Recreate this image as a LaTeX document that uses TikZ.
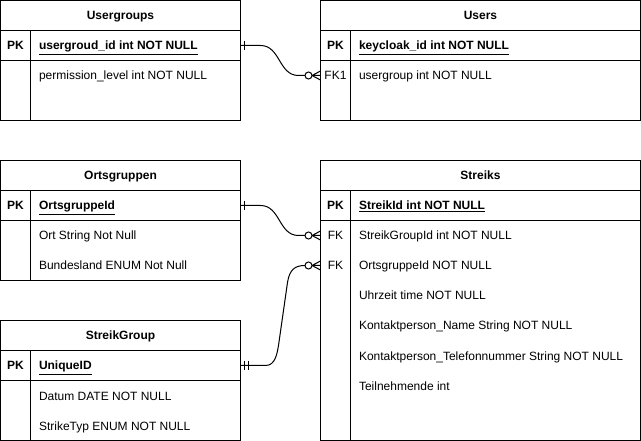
\documentclass[tikz,border=0pt]{standalone}
\usepackage{fontspec}
\setmainfont{Liberation Sans}
\usetikzlibrary{calc}
% table frame: name, x, y, width, height, title
\newcommand{\tablebox}[6]{%
  \draw (#2,#3) rectangle ++(#4,#5);
  \draw (#2,#3+30) -- ++(#4,0) (#2,#3+60) -- ++(#4,0) (#2+30,#3+30) -- (#2+30,#3+#5);
  \node[tabtitle] (#1-title) at (#2+#4/2,#3+19.5) {#6};}
% relation ends
\newcommand{\onemark}[1]{\draw ($(#1)+(4,-4.5)$) -- ++(0,9);}
\newcommand{\onlyonemark}[1]{\draw ($(#1)+(4,-4.5)$) -- ++(0,9) ($(#1)+(8,-4.5)$) -- ++(0,9);}
\newcommand{\manymark}[1]{%
  \draw[fill=white] ($(#1)+(-12,0)$) circle (3.5);
  \draw ($(#1)+(-8.5,0)$) -- ($(#1)+(0,-4.5)$) ($(#1)+(-8.5,0)$) -- (#1) ($(#1)+(-8.5,0)$) -- ($(#1)+(0,4.5)$);}

\begin{document}
\begin{tikzpicture}[x=1pt,y=-1pt,line width=1pt,font=\fontsize{12}{14}\selectfont]
  \tikzstyle{tabtitle}=[font=\fontsize{12}{14}\selectfont\bfseries,anchor=base,inner sep=0pt]
  \tikzstyle{keylbl}=[anchor=base,inner sep=0pt]
  \tikzstyle{field}=[anchor=base west,inner sep=0pt]
  \useasboundingbox (-0.5,-0.5) rectangle (640.5,440.5);

  % Usergroups
  \tablebox{ug}{0}{0}{240}{120}{Usergroups}
  \node[keylbl] (ug-pk) at (15,49.5) {\textbf{PK}};
  \node[field] (ug-id) at (38,49.5) {\textbf{\underline{usergroud\_id int NOT NULL}}};
  \node[field] (ug-perm) at (38,79.5) {permission\_level int NOT NULL};

  % Users
  \tablebox{us}{320}{0}{320}{120}{Users}
  \node[keylbl] (us-pk) at (335,49.5) {\textbf{PK}};
  \node[field] (us-id) at (358,49.5) {\textbf{\underline{keycloak\_id int NOT NULL}}};
  \node[keylbl] (us-fk) at (335,79.5) {FK1};
  \node[field] (us-group) at (358,79.5) {usergroup int NOT NULL};

  % Ortsgruppen
  \tablebox{og}{0}{160}{240}{120}{Ortsgruppen}
  \node[keylbl] (og-pk) at (15,209.5) {\textbf{PK}};
  \node[field] (og-id) at (38,209.5) {\textbf{\underline{OrtsgruppeId}}};
  \node[field] (og-ort) at (38,239.5) {Ort String Not Null};
  \node[field] (og-land) at (38,269.5) {Bundesland ENUM Not Null};

  % StreikGroup
  \tablebox{sg}{0}{320}{240}{120}{StreikGroup}
  \node[keylbl] (sg-pk) at (15,369.5) {\textbf{PK}};
  \node[field] (sg-id) at (38,369.5) {\textbf{\underline{UniqueID}}};
  \node[field] (sg-datum) at (38,399.5) {Datum DATE NOT NULL};
  \node[field] (sg-typ) at (38,429.5) {StrikeTyp ENUM NOT NULL};

  % Streiks
  \tablebox{st}{320}{160}{320}{280}{Streiks}
  \node[keylbl] (st-pk) at (335,209.5) {\textbf{PK}};
  \node[field] (st-id) at (358,209.5) {\textbf{\underline{StreikId int NOT NULL}}};
  \node[keylbl] (st-fk1) at (335,239.5) {FK};
  \node[field] (st-group) at (358,239.5) {StreikGroupId int NOT NULL};
  \node[keylbl] (st-fk2) at (335,269.5) {FK};
  \node[field] (st-orts) at (358,269.5) {OrtsgruppeId NOT NULL};
  \node[field] (st-zeit) at (358,299.5) {Uhrzeit time NOT NULL};
  \node[field] (st-kname) at (358,329.5) {Kontaktperson\_Name String NOT NULL};
  \node[field] (st-ktel) at (358,359.5) {Kontaktperson\_Telefonnummer String NOT NULL};
  \node[field] (st-teil) at (358,389.5) {Teilnehmende int};

  % relations
  \coordinate (ugkey) at (240,45);
  \coordinate (usfk) at (320,75);
  \coordinate (ogkey) at (240,205);
  \coordinate (stfk1) at (320,235);
  \coordinate (sgkey) at (240,365);
  \coordinate (stfk2) at (320,265);

  \draw (ugkey) -- ++(20,0) .. controls +(20,0) and +(-20,0) .. ($(usfk)+(-22,0)$) -- ($(usfk)+(-15.5,0)$);
  \onemark{ugkey}
  \manymark{usfk}

  \draw (ogkey) -- ++(20,0) .. controls +(20,0) and +(-20,0) .. ($(stfk1)+(-22,0)$) -- ($(stfk1)+(-15.5,0)$);
  \onemark{ogkey}
  \manymark{stfk1}

  \draw (sgkey) -- ++(25,0) .. controls +(10,0) and +(-1.5,8) .. (278,345) -- (287,282)
    .. controls +(2,-13) and +(-10,0) .. ($(stfk2)+(-15.5,0)$);
  \onlyonemark{sgkey}
  \manymark{stfk2}
\end{tikzpicture}
\end{document}
